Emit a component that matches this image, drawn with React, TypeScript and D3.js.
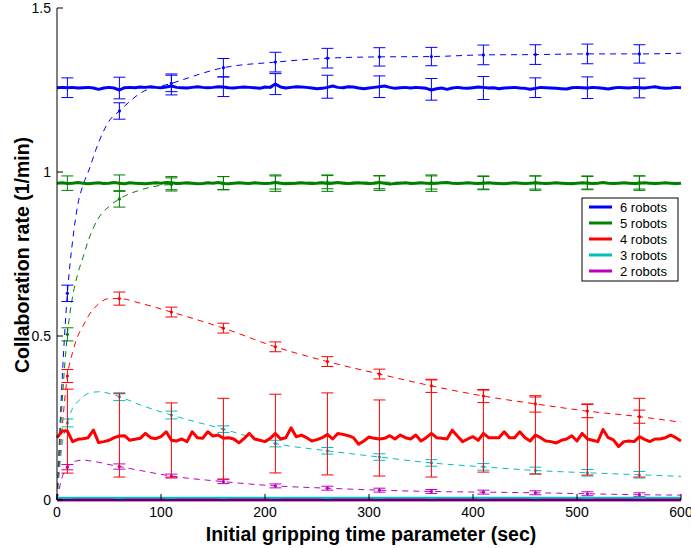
import React from "react";
import * as d3 from "d3";

const xTicks = [0, 100, 200, 300, 400, 500, 600];
const yTicks = [0, 0.5, 1, 1.5];
const yTickLabels = ["0", "0.5", "1", "1.5"];

const seriesNames = ["6 robots", "5 robots", "4 robots", "3 robots", "2 robots"];
const seriesColors = ["#0000ff", "#008000", "#ff0000", "#00bfbf", "#bf00bf"];

// solid lines sampled every 5 sec (0..600)
const solidStep = 5;
const solid6 = [
  1.257, 1.258, 1.257, 1.258, 1.256, 1.257, 1.258, 1.256, 1.252, 1.256,
  1.258, 1.256, 1.25, 1.257, 1.258, 1.257, 1.259, 1.258, 1.26, 1.258,
  1.257, 1.259, 1.262, 1.258, 1.257, 1.256, 1.258, 1.26, 1.258, 1.257,
  1.258, 1.26, 1.259, 1.257, 1.256, 1.258, 1.259, 1.258, 1.257, 1.255,
  1.259, 1.258, 1.268, 1.259, 1.256, 1.258, 1.26, 1.259, 1.258, 1.256,
  1.254, 1.255, 1.258, 1.262, 1.258, 1.257, 1.26, 1.259, 1.256, 1.254,
  1.256, 1.258, 1.26, 1.262, 1.258, 1.255, 1.257, 1.258, 1.256, 1.258,
  1.257, 1.255, 1.25, 1.254, 1.256, 1.252, 1.256, 1.258, 1.256, 1.255,
  1.257, 1.259, 1.258, 1.256, 1.257, 1.254, 1.256, 1.257, 1.258, 1.256,
  1.255, 1.252, 1.255, 1.258, 1.257, 1.256, 1.255, 1.254, 1.253, 1.257,
  1.258, 1.257, 1.256, 1.258, 1.257, 1.255, 1.253, 1.256, 1.258, 1.257,
  1.256, 1.258, 1.257, 1.256, 1.258, 1.26, 1.257, 1.255, 1.256, 1.258,
  1.257,
];
const solid5 = [
  0.966, 0.967, 0.965, 0.966, 0.968, 0.966, 0.964, 0.966, 0.967, 0.965,
  0.966, 0.968, 0.966, 0.964, 0.967, 0.966, 0.965, 0.964, 0.966, 0.967,
  0.966, 0.968, 0.967, 0.965, 0.966, 0.967, 0.966, 0.964, 0.965, 0.967,
  0.966, 0.968, 0.965, 0.964, 0.966, 0.967, 0.966, 0.965, 0.967, 0.966,
  0.965, 0.966, 0.968, 0.966, 0.964, 0.965, 0.966, 0.967, 0.966, 0.965,
  0.966, 0.967, 0.965, 0.966, 0.968, 0.966, 0.965, 0.966, 0.967, 0.966,
  0.965, 0.966, 0.968, 0.966, 0.963, 0.965, 0.966, 0.967, 0.965, 0.966,
  0.967, 0.966, 0.965, 0.966, 0.967, 0.968, 0.966, 0.965, 0.966, 0.967,
  0.966, 0.965, 0.966, 0.967, 0.966, 0.965, 0.964, 0.966, 0.967, 0.966,
  0.965, 0.966, 0.967, 0.966, 0.965, 0.966, 0.967, 0.966, 0.965, 0.964,
  0.966, 0.967, 0.966, 0.965, 0.966, 0.968, 0.966, 0.965, 0.966, 0.967,
  0.966, 0.965, 0.966, 0.967, 0.966, 0.965, 0.966, 0.967, 0.966, 0.965,
  0.966,
];
const solid4 = [
  0.19, 0.21, 0.21, 0.178, 0.185, 0.187, 0.19, 0.213, 0.175, 0.178,
  0.182, 0.19, 0.195, 0.196, 0.182, 0.185, 0.188, 0.203, 0.19, 0.187,
  0.193, 0.208, 0.182, 0.18, 0.186, 0.178, 0.208, 0.19, 0.188, 0.208,
  0.195, 0.198, 0.188, 0.19, 0.186, 0.174, 0.188, 0.203, 0.186, 0.182,
  0.178, 0.188, 0.203, 0.186, 0.19, 0.22, 0.193, 0.198, 0.19, 0.18,
  0.184, 0.19, 0.2, 0.186, 0.203, 0.2, 0.196, 0.19, 0.17, 0.18,
  0.192, 0.188, 0.186, 0.188, 0.196, 0.186, 0.198, 0.19, 0.186, 0.198,
  0.18, 0.19, 0.203, 0.19, 0.188, 0.186, 0.213, 0.195, 0.178, 0.186,
  0.193, 0.182, 0.203, 0.19, 0.19, 0.19, 0.208, 0.19, 0.19, 0.208,
  0.19, 0.18, 0.198, 0.19, 0.18, 0.178, 0.174, 0.182, 0.186, 0.196,
  0.18, 0.203, 0.186, 0.182, 0.178, 0.215, 0.19, 0.183, 0.163, 0.178,
  0.18, 0.178, 0.193, 0.185, 0.178, 0.186, 0.186, 0.19, 0.198, 0.19,
  0.18,
];
// flat lines sampled every 50 sec
const flatStep = 50;
const solid3 = [0.005, 0.005, 0.005, 0.005, 0.005, 0.005, 0.005, 0.005, 0.005, 0.005, 0.005, 0.005, 0.005];
const solid2 = [0.0, 0.0, 0.0, 0.0, 0.0, 0.0, 0.0, 0.0, 0.0, 0.0, 0.0, 0.0, 0.0];

// error bars of the solid lines
const errX = [10, 60, 110, 160, 210, 260, 310, 360, 410, 460, 510, 560];
const solidMean6 = [1.257, 1.256, 1.267, 1.26, 1.268, 1.26, 1.26, 1.252, 1.256, 1.257, 1.257, 1.256];
const solidErr6 = [0.03, 0.033, 0.032, 0.03, 0.032, 0.035, 0.033, 0.033, 0.035, 0.03, 0.033, 0.03];
const solidMean5 = [0.966, 0.966, 0.966, 0.966, 0.966, 0.966, 0.966, 0.966, 0.966, 0.966, 0.966, 0.966];
const solidErr5 = [0.022, 0.025, 0.02, 0.02, 0.025, 0.025, 0.022, 0.025, 0.02, 0.022, 0.02, 0.022];
const solidMean4 = [0.21, 0.197, 0.183, 0.187, 0.2025, 0.2015, 0.189, 0.218, 0.21, 0.1965, 0.1845, 0.19];
const solidErr4 = [0.128, 0.127, 0.113, 0.123, 0.12, 0.125, 0.116, 0.148, 0.125, 0.1175, 0.1085, 0.12];
const solidMean3 = [0.005, 0.005, 0.005, 0.005, 0.005, 0.005, 0.005, 0.005, 0.005, 0.005, 0.005, 0.005];
const solidErr3 = [0.002, 0.002, 0.002, 0.002, 0.002, 0.002, 0.002, 0.002, 0.002, 0.002, 0.002, 0.002];
const solidMean2 = [0.0, 0.0, 0.0, 0.0, 0.0, 0.0, 0.0, 0.0, 0.0, 0.0, 0.0, 0.0];
const solidErr2 = [0.001, 0.001, 0.001, 0.001, 0.001, 0.001, 0.001, 0.001, 0.001, 0.001, 0.001, 0.001];

// dashed curves
const dashX = [0, 5, 10, 15, 20, 25, 30, 40, 50, 60, 80, 110, 160, 210, 260, 310, 360, 410, 460, 510, 560, 600];
const dash6 = [0, 0.37, 0.63, 0.79, 0.9, 0.96, 1.0, 1.09, 1.155, 1.186, 1.24, 1.27, 1.318, 1.335, 1.347, 1.351, 1.352, 1.357, 1.358, 1.36, 1.36, 1.362];
const dash5 = [0, 0.3, 0.505, 0.62, 0.69, 0.74, 0.79, 0.86, 0.895, 0.918, 0.945, 0.962, 0.966, 0.968, 0.969, 0.969, 0.968, 0.968, 0.968, 0.968, 0.968, 0.968];
const dash4 = [0, 0.22, 0.378, 0.45, 0.5, 0.53, 0.56, 0.598, 0.614, 0.614, 0.6, 0.573, 0.524, 0.467, 0.422, 0.384, 0.348, 0.317, 0.293, 0.271, 0.254, 0.237];
const dash3 = [0, 0.17, 0.235, 0.28, 0.3, 0.315, 0.325, 0.33, 0.325, 0.315, 0.29, 0.259, 0.216, 0.172, 0.15, 0.131, 0.113, 0.101, 0.09, 0.083, 0.077, 0.072];
const dash2 = [0, 0.07, 0.1, 0.115, 0.12, 0.122, 0.12, 0.115, 0.108, 0.102, 0.09, 0.073, 0.056, 0.043, 0.036, 0.03, 0.026, 0.024, 0.022, 0.019, 0.016, 0.015];

// error bars of dashed curves (at errX; centres taken from dashed data)
const dashErr6 = [0.025, 0.025, 0.025, 0.028, 0.03, 0.03, 0.028, 0.028, 0.03, 0.03, 0.03, 0.028];
const dashErr5 = [0.02, 0.025, 0.02, 0.02, 0.02, 0.02, 0.02, 0.02, 0.02, 0.02, 0.02, 0.02];
const dashErr4 = [0.02, 0.02, 0.015, 0.015, 0.015, 0.015, 0.015, 0.02, 0.02, 0.025, 0.02, 0.02];
const dashErr3 = [0.012, 0.012, 0.012, 0.01, 0.01, 0.01, 0.01, 0.01, 0.01, 0.01, 0.01, 0.01];
const dashErr2 = [0.008, 0.008, 0.006, 0.006, 0.006, 0.006, 0.006, 0.006, 0.006, 0.006, 0.006, 0.006];

const W = 691;
const H = 548;
const FONT = "'Liberation Sans', Arial, Helvetica, sans-serif";

export default function App() {
  const x = d3.scaleLinear().domain([0, 600]).range([57, 681]);
  const y = d3.scaleLinear().domain([0, 1.5]).range([500, 8]);

  const solidLine = (vals: number[], step: number) =>
    d3
      .line<number>()
      .x((_, i) => x(i * step))
      .y((v) => y(v))(vals) || "";

  const dashLine = (vals: number[]) =>
    d3
      .line<number>()
      .x((_, i) => x(dashX[i]))
      .y((v) => y(v))
      .curve(d3.curveMonotoneX)(vals) || "";

  const solids = [
    { vals: solid6, step: solidStep },
    { vals: solid5, step: solidStep },
    { vals: solid4, step: solidStep },
    { vals: solid3, step: flatStep },
    { vals: solid2, step: flatStep },
  ];
  const solidMeans = [solidMean6, solidMean5, solidMean4, solidMean3, solidMean2];
  const solidErrs = [solidErr6, solidErr5, solidErr4, solidErr3, solidErr2];
  const dashes = [dash6, dash5, dash4, dash3, dash2];
  const dashErrs = [dashErr6, dashErr5, dashErr4, dashErr3, dashErr2];

  const dashAt = (vals: number[], xv: number) => vals[dashX.indexOf(xv)];

  const errBar = (key: string, xv: number, m: number, e: number, color: string) => {
    const cx = x(xv);
    const y1 = y(m + e);
    const y2 = y(m - e);
    return (
      <g key={key} stroke={color} strokeWidth={1}>
        <line x1={cx} x2={cx} y1={y1} y2={y2} />
        <line x1={cx - 6} x2={cx + 6} y1={y1} y2={y1} />
        <line x1={cx - 6} x2={cx + 6} y1={y2} y2={y2} />
      </g>
    );
  };

  return (
    <svg
      width={W}
      height={H}
      style={{ position: "absolute", left: 0, top: 0, background: "#fff" }}
      fontFamily={FONT}
    >
      <rect x={0} y={0} width={W} height={H} fill="#fff" />
      {/* dashed curves */}
      {dashes.map((d, si) => (
        <path
          key={"dl" + si}
          d={dashLine(d)}
          fill="none"
          stroke={seriesColors[si]}
          strokeWidth={1}
          strokeDasharray="6,5"
        />
      ))}
      {/* dashed error bars + markers */}
      {dashes.map((d, si) =>
        errX.map((xv, i) => (
          <g key={"de" + si + "_" + i}>
            {errBar("b", xv, dashAt(d, xv), dashErrs[si][i], seriesColors[si])}
            <circle cx={x(xv)} cy={y(dashAt(d, xv))} r={1.6} fill={seriesColors[si]} />
          </g>
        ))
      )}
      {/* solid lines */}
      {solids.map((s, si) => (
        <path
          key={"sl" + si}
          d={solidLine(s.vals, s.step)}
          fill="none"
          stroke={seriesColors[si]}
          strokeWidth={3}
          strokeLinejoin="round"
        />
      ))}
      {/* solid error bars */}
      {solidMeans.map((ms, si) =>
        errX.map((xv, i) => errBar("se" + si + "_" + i, xv, ms[i], solidErrs[si][i], seriesColors[si]))
      )}

      {/* axes */}
      <line x1={57} x2={57} y1={y(1.5)} y2={y(0)} stroke="#000" strokeWidth={1} />
      <line x1={57} x2={x(600)} y1={500} y2={500} stroke="#000" strokeWidth={1} />
      {yTicks.map((t, i) => (
        <g key={"yt" + i}>
          <line x1={57} x2={63} y1={y(t)} y2={y(t)} stroke="#000" />
          <text x={51} y={y(t)} dy="0.35em" textAnchor="end" fontSize={14} fill="#000">
            {yTickLabels[i]}
          </text>
        </g>
      ))}
      {xTicks.map((t) => (
        <g key={"xt" + t}>
          <line x1={x(t)} x2={x(t)} y1={500} y2={494} stroke="#000" />
          <text x={x(t)} y={517} textAnchor="middle" fontSize={14} fill="#000">
            {t}
          </text>
        </g>
      ))}

      {/* axis titles */}
      <text x={371} y={541} textAnchor="middle" fontSize={19.5} fontWeight="bold" fill="#000">
        Initial gripping time parameter (sec)
      </text>
      <text
        transform={`translate(29,255) rotate(-90)`}
        textAnchor="middle"
        fontSize={19.5}
        fontWeight="bold"
        fill="#000"
      >
        Collaboration rate (1/min)
      </text>

      {/* legend */}
      <g>
        <rect x={582} y={198} width={96} height={83} fill="#fff" stroke="#000" strokeWidth={1} />
        {seriesNames.map((n, i) => (
          <g key={"lg" + i}>
            <line x1={589} x2={612} y1={207 + i * 16} y2={207 + i * 16} stroke={seriesColors[i]} strokeWidth={3} />
            <text x={620} y={207 + i * 16} dy="0.35em" fontSize={13} fill="#000">
              {n}
            </text>
          </g>
        ))}
      </g>
    </svg>
  );
}
